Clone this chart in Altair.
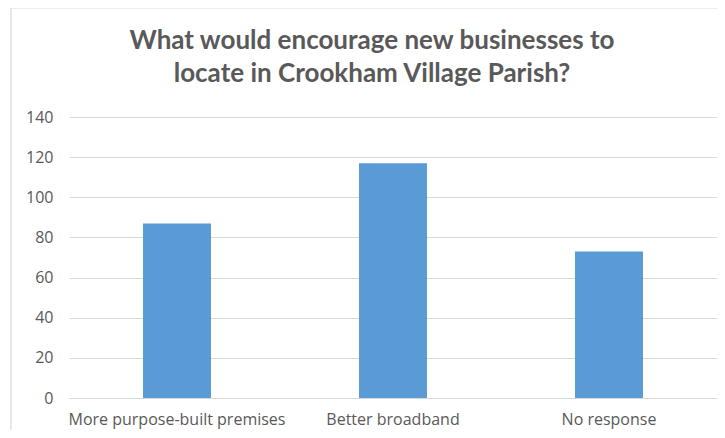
import altair as alt
import pandas as pd

categories = ["More purpose-built premises", "Better broadband", "No response"]
values = [87, 117, 73]
title_lines = ["What would encourage new businesses to", "locate in Crookham Village Parish?"]
y_ticks = [0, 20, 40, 60, 80, 100, 120, 140]

df = pd.DataFrame({"category": categories, "value": values})

TITLE_FONT = "Lato"
LABEL_FONT = "Open Sans"
GREY = "#595959"

border = alt.Chart(pd.DataFrame({"a": [0]})).mark_rect(
    fill=None, stroke="#d9d9d9", strokeWidth=1.2, clip=False
).encode(
    x=alt.value(-58), x2=alt.value(700), y=alt.value(-109), y2=alt.value(400)
)

bars = alt.Chart(df).mark_bar(size=68, color="#5B9BD5").encode(
    x=alt.X("category:N", sort=categories, title=None,
            scale=alt.Scale(paddingInner=0, paddingOuter=0),
            axis=alt.Axis(labelAngle=0, labelFont=LABEL_FONT, labelFontSize=16,
                          labelColor=GREY, labelPadding=13, ticks=False,
                          labelLimit=400,
                          domainColor="#d9d9d9", domainWidth=1.2, grid=False)),
    y=alt.Y("value:Q", title=None,
            scale=alt.Scale(domain=[0, 140]),
            axis=alt.Axis(values=y_ticks, labelFont=LABEL_FONT, labelFontSize=16,
                          labelColor=GREY, labelPadding=16, ticks=False,
                          domain=False, gridColor="#d9d9d9", gridWidth=1.2)),
)

chart = alt.layer(border, bars).properties(
    width=648, height=281,
    padding={"left": 61, "top": 109, "right": 0, "bottom": 32},
    autosize=alt.AutoSizeParams(type="none"),
    title=alt.TitleParams(text=title_lines, font=TITLE_FONT, fontSize=26,
                          fontWeight="bold", color=GREY, lineHeight=33,
                          anchor="middle", dx=-21, offset=-80),
).configure_view(stroke=None)

chart.save("out.html", embed_options={"renderer": "svg", "actions": False})
